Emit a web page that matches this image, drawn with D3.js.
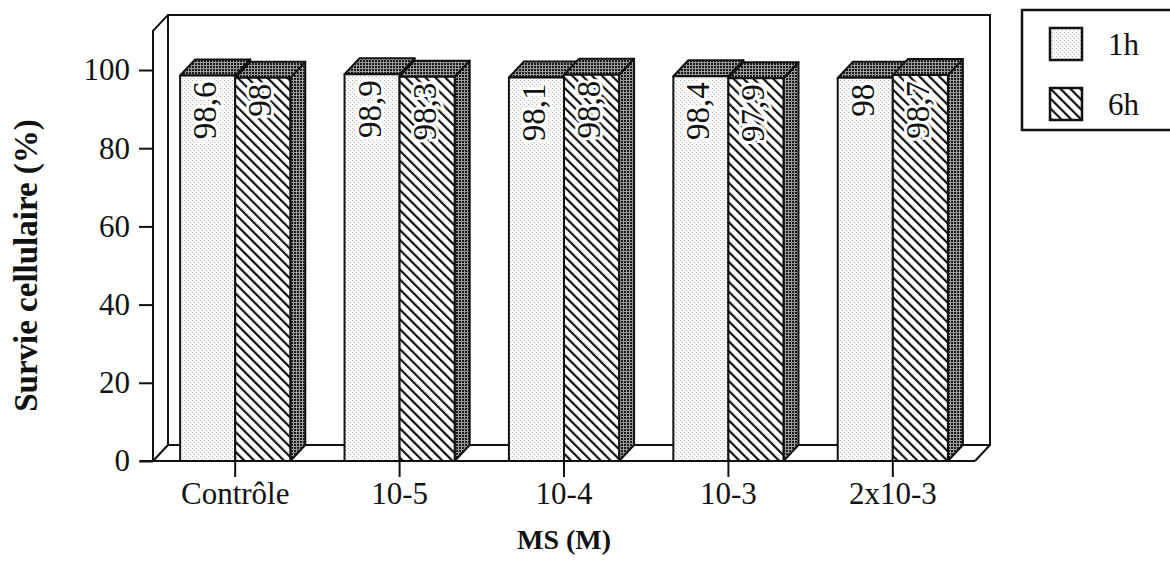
<!DOCTYPE html>
<html lang="fr">
  <head>
    <meta charset="UTF-8" />
    <title>Survie cellulaire</title>
    <script src="https://d3js.org/d3.v7.min.js"></script>
    <style>
      body {
        margin: 0;
        background-color: white;
      }
      svg text {
        font-family: "Liberation Serif", "Times New Roman", serif;
        fill: #111;
      }
      .axis path,
      .axis line {
        stroke: #111;
        stroke-width: 2px;
      }
    </style>
  </head>
  <body>
    <svg width="1170" height="579"></svg>

    <script>
      // data
      const categories = ["Contrôle", "10-5", "10-4", "10-3", "2x10-3"];
      const series = ["1h", "6h"];
      const survie1h = [98.6, 98.9, 98.1, 98.4, 98];
      const survie6h = [98, 98.3, 98.8, 97.9, 98.7];
      const yTicks = [0, 20, 40, 60, 80, 100];

      const svg = d3.select("svg");
      const defs = svg.append("defs");

      // light stipple for 1h
      const stip = defs.append("pattern").attr("id", "stipple")
        .attr("patternUnits", "userSpaceOnUse").attr("width", 4).attr("height", 4);
      stip.append("rect").attr("width", 4).attr("height", 4).attr("fill", "#fafafa");
      stip.append("rect").attr("x", 0).attr("y", 0).attr("width", 1).attr("height", 1).attr("fill", "#b0b0b0");
      stip.append("rect").attr("x", 2).attr("y", 2).attr("width", 1).attr("height", 1).attr("fill", "#c0c0c0");

      // diagonal hatch for 6h
      const hatch = defs.append("pattern").attr("id", "hatch")
        .attr("patternUnits", "userSpaceOnUse").attr("width", 7).attr("height", 7)
        .attr("patternTransform", "rotate(-45)");
      hatch.append("rect").attr("width", 7).attr("height", 7).attr("fill", "white");
      hatch.append("line").attr("x1", 1).attr("y1", 0).attr("x2", 1).attr("y2", 7)
        .attr("stroke", "#111").attr("stroke-width", 2.4);

      // dark dots for tops and sides
      const dark = defs.append("pattern").attr("id", "dark")
        .attr("patternUnits", "userSpaceOnUse").attr("width", 3).attr("height", 3);
      dark.append("rect").attr("width", 3).attr("height", 3).attr("fill", "#9a9a9a");
      dark.append("rect").attr("width", 2).attr("height", 2).attr("fill", "#1a1a1a");

      const fills = { "1h": "url(#stipple)", "6h": "url(#hatch)" };

      const x0 = d3.scaleBand().domain(categories).range([153, 975])
        .paddingInner(0.33).paddingOuter(0.165);
      const x1 = d3.scaleBand().domain(series).range([0, x0.bandwidth()]);
      const y = d3.scaleLinear().domain([0, 100]).range([461, 70]);

      const dx = 15, dy = -16;
      const boxTop = y(110);
      const left = x0.range()[0], right = x0.range()[1];

      // 3D frame
      const frame = svg.append("g").attr("fill", "none").attr("stroke", "#111").attr("stroke-width", 2);
      const line = (pts) => frame.append("path").attr("d", d3.line()(pts));
      line([[left, y(0)], [left, boxTop], [left + dx, boxTop + dy], [right + dx, boxTop + dy], [right + dx, y(0) + dy], [right, y(0)]]);
      line([[left + dx, boxTop + dy], [left + dx, y(0) + dy], [right + dx, y(0) + dy]]);
      line([[left, y(0)], [left + dx, y(0) + dy]]);
      line([[left - 13, y(0)], [right, y(0)]]);

      // y axis
      svg.append("g").attr("class", "axis")
        .attr("transform", `translate(${left},0)`)
        .call(d3.axisLeft(y).tickValues(yTicks).tickSize(14).tickPadding(9))
        .call((g) => g.select(".domain").remove())
        .call((g) => g.selectAll("text").style("font-size", "31px"));

      // x axis
      svg.append("g").attr("class", "axis")
        .attr("transform", `translate(0,${y(0)})`)
        .call(d3.axisBottom(x0).tickSize(16).tickPadding(5))
        .call((g) => g.select(".domain").remove())
        .call((g) => g.selectAll("text").style("font-size", "31px"));

      // bars
      const bars = [];
      categories.forEach((c, i) => {
        bars.push({ cat: c, s: "1h", v: survie1h[i] });
        bars.push({ cat: c, s: "6h", v: survie6h[i] });
      });

      const w = x1.bandwidth();
      const barG = svg.append("g").attr("stroke", "#111").attr("stroke-width", 2).attr("stroke-linejoin", "round");
      bars.forEach((d) => {
        const bx = x0(d.cat) + x1(d.s);
        const by = y(d.v);
        const g = barG.append("g");
        g.append("path").attr("fill", "url(#dark)")
          .attr("d", d3.line()([[bx + w, by], [bx + w + dx, by + dy], [bx + w + dx, y(0) + dy], [bx + w, y(0)]]) + "Z");
        g.append("path").attr("fill", "url(#dark)")
          .attr("d", d3.line()([[bx, by], [bx + dx, by + dy], [bx + w + dx, by + dy], [bx + w, by]]) + "Z");
        g.append("rect").attr("x", bx).attr("y", by).attr("width", w).attr("height", y(0) - by)
          .attr("fill", fills[d.s]);
      });

      // value labels
      svg.append("g").selectAll("text").data(bars).join("text")
        .attr("transform", (d) => `translate(${x0(d.cat) + x1(d.s) + w / 2 - 3},${y(d.v) + 6}) rotate(-90)`)
        .attr("text-anchor", "end")
        .attr("dy", "0.35em")
        .style("font-size", "33px")
        .attr("stroke", "white").attr("stroke-width", 6).attr("paint-order", "stroke")
        .text((d) => String(d.v).replace(".", ","));

      // axis titles
      svg.append("text")
        .attr("transform", `translate(37,${y(50)}) rotate(-90)`)
        .attr("text-anchor", "middle")
        .style("font-size", "33px").style("font-weight", "bold")
        .text("Survie cellulaire (%)");

      svg.append("text")
        .attr("x", (left + right) / 2).attr("y", 549)
        .attr("text-anchor", "middle")
        .style("font-size", "28px").style("font-weight", "bold")
        .text("MS (M)");

      // legend
      const leg = svg.append("g");
      leg.append("rect").attr("x", 1022).attr("y", 10).attr("width", 170).attr("height", 120)
        .attr("fill", "white").attr("stroke", "#111").attr("stroke-width", 2.5);
      series.forEach((s, i) => {
        leg.append("rect").attr("x", 1050).attr("y", 28 + i * 60).attr("width", 32).attr("height", 32)
          .attr("fill", fills[s]).attr("stroke", "#111").attr("stroke-width", 2.5);
        leg.append("text").attr("x", 1108).attr("y", 44 + i * 60).attr("dy", "0.35em")
          .style("font-size", "31px").text(s);
      });
    </script>
  </body>
</html>
